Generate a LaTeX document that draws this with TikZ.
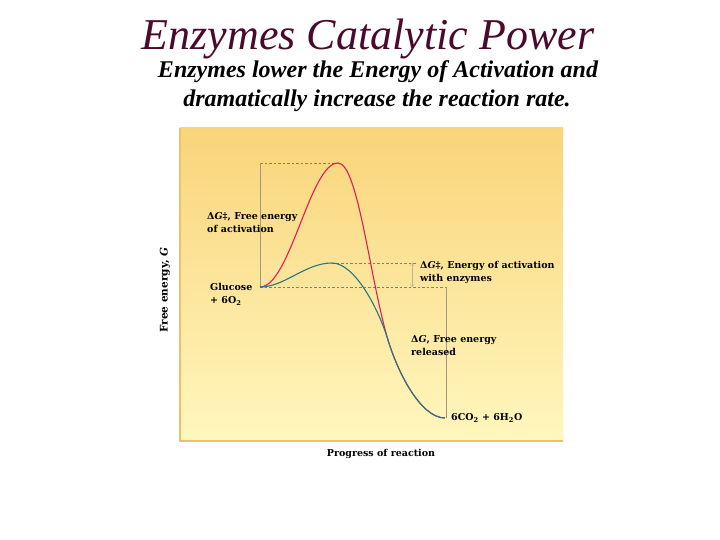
\documentclass[tikz,border=0pt]{standalone}
\usepackage{fontspec}
\setmainfont{Liberation Serif}
\newfontfamily\figfont{DejaVu Serif}
\usetikzlibrary{arrows.meta, positioning}

\definecolor{titlecol}{RGB}{75,10,45}
\definecolor{paneltop}{RGB}{249,212,122}
\definecolor{panelbot}{RGB}{255,247,190}
\definecolor{paneledge}{RGB}{240,192,105}
\definecolor{nocat}{RGB}{222,30,88}
\definecolor{withcat}{RGB}{38,118,132}
\definecolor{guide}{RGB}{140,125,95}

\begin{document}
\begin{tikzpicture}[x=1pt, y=1pt,
    lbl/.style={font=\figfont\fontsize{9.5}{13}\selectfont\bfseries, align=left, inner sep=0pt, anchor=north west},
    guidedash/.style={guide, dashed, dash pattern=on 2.5pt off 2pt, line width=0.5pt},
    guideline/.style={guide!80, line width=0.5pt},
    curve/.style={line width=1.1pt}]
\useasboundingbox (0,0) rectangle (720,540);
\fill[white] (0,0) rectangle (720,540);

% titles
\node[font=\fontsize{44}{48}\selectfont\itshape, text=titlecol, anchor=base] (title) at (368,490) {Enzymes Catalytic Power};
\node[font=\fontsize{24}{28}\selectfont\bfseries\itshape, anchor=base] (sub1) at (378,462) {Enzymes lower the Energy of Activation and};
\node[font=\fontsize{24}{28}\selectfont\bfseries\itshape, anchor=base] (sub2) at (377,433) {dramatically increase the reaction rate.};

% panel
\shade[top color=paneltop, bottom color=panelbot] (180,99) rectangle (563,412);
\draw[paneledge, line width=2.5pt] (180,412) -- (180,99) -- (563,99);

% key points of the curves
\coordinate (start) at (260,253);
\coordinate (redtop) at (338,377);
\coordinate (greentop) at (332,277);
\coordinate (merge) at (388,200);
\coordinate (finish) at (445,122);
\coordinate (gap) at (412,0);
\coordinate (drop) at (446,0);

% guides
\draw[guidedash] (start |- redtop) -- (redtop);
\draw[guidedash] (greentop) -- (greentop -| 417,0);
\draw[guidedash] (start) -- (start -| 448,0);
\draw[guideline] (start) -- (start |- redtop);
\draw[guideline] (start -| drop) -- (finish -| drop);
\draw[guide!60, line width=0.4pt, {Straight Barb[length=2.5pt,width=4pt]}-{Straight Barb[length=2.5pt,width=4pt]}] (greentop -| gap) -- (start -| gap);

% curves
\draw[curve, nocat] (start) .. controls (290,253) and (310,377) .. (redtop)
    .. controls (358,377) and (370,260) .. (merge)
    .. controls (397,170) and (420,122) .. (finish);
\draw[curve, withcat] (start) .. controls (285,253) and (305,277) .. (greentop)
    .. controls (355,277) and (379,230) .. (merge)
    .. controls (397,170) and (420,122) .. (finish);

% labels
\node[lbl] (dgact) at (207,328) {Δ\textit{G}‡, Free energy\\of activation};
\node[lbl] (glucose) at (210,257) {Glucose\\+ 6O\textsubscript{2}};
\node[lbl] (dgenz) at (420,279) {Δ\textit{G}‡, Energy of activation\\with enzymes};
\node[lbl] (dgrel) at (411,205) {Δ\textit{G}, Free energy\\released};
\node[lbl, anchor=west, right=6pt of finish] (product) {6CO\textsubscript{2} + 6H\textsubscript{2}O};
\node[font=\figfont\fontsize{9.5}{11}\selectfont\bfseries] (xlab) at (381,86) {Progress of reaction};
\node[font=\figfont\fontsize{10.5}{12}\selectfont\bfseries, rotate=90] (ylab) at (165,250) {Free energy, \textit{G}};
\end{tikzpicture}
\end{document}
